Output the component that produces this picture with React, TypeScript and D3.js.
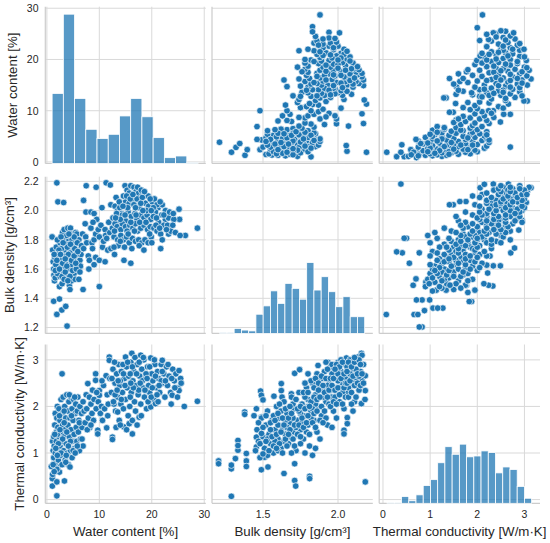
import React from "react";
import * as d3 from "d3";

// ---------------- DATA ----------------
const varLabels = ["Water content [%]", "Bulk density [g/cm³]", "Thermal conductivity [W/m·K]"];
const waterTicks = [0, 10, 20, 30];
const bulkTicksY = [1.2, 1.4, 1.6, 1.8, 2.0, 2.2];
const bulkTicksX = [1.5, 2.0];
const thermalTicks = [0, 1, 2, 3];

// histograms (counts per bin)
const waterHist = [84, 179, 78, 41, 30, 35, 57, 78, 56, 31, 7, 9, 1];
const waterBinStart = 1.0;
const waterBinWidth = 2.14;
const bulkHist = [1, 1, 6, 4, 3, 23, 33, 51, 36, 60, 54, 41, 85, 52, 68, 50, 32, 44, 20, 20];
const bulkBinStart = 1.211;
const bulkBinWidth = 0.04835;
const thermalHist = [1, 1, 8, 3, 10, 21, 28, 48, 67, 58, 70, 55, 56, 62, 60, 36, 43, 40, 20, 6];
const thermalBinStart = 0.087;
const thermalBinWidth = 0.1533;

// [water, bulk]
const waterBulk: [number, number][] = [
  [1.9,2.19],[2.1,2.06],[3.2,2.055],[7.5,2.17],[9.4,2.16],[11.3,2.19],[12.1,2.175],[7.0,2.07],[7.45,1.99],[8.4,1.99],[7.3,1.91],
  [1.0,1.82],[1.3,1.38],[1.9,1.29],[2.4,1.395],[2.85,1.32],[3.6,1.345],[3.85,1.21],[6.9,1.46],[10.0,1.48],
  [28.7,1.88],[26.4,1.83],[25.2,2.01],[25.3,1.94],[21.7,1.74],[14.7,1.66],[16.0,1.64],[4.3,1.49],[1.45,1.52],[2.4,1.48],[4.4,1.46],
  [1.1,1.73],[1.2,1.65],[1.3,1.6],[1.35,1.56],[1.6,1.54],[1.8,1.75],[2.1,1.6],[2.3,1.69],[2.5,1.78],[2.5,1.55],[2.7,1.66],[2.9,1.5],
  [3.0,1.85],[3.1,1.72],[3.3,1.87],[3.4,1.81],[3.5,1.73],[3.6,1.64],[3.7,1.69],[3.9,1.55],[4.0,1.88],[4.1,1.79],[4.2,1.6],[4.3,1.76],
  [4.3,1.67],[4.5,1.88],[4.6,1.84],[4.7,1.52],[4.8,1.8],[4.9,1.72],[5.0,1.77],[5.0,1.63],[5.1,1.67],[5.2,1.57],[5.4,1.53],[5.5,1.85],
  [5.7,1.84],[5.9,1.6],[6.1,1.8],[6.2,1.73],[6.3,1.66],[6.5,1.7],[6.1,1.53],[1.5,1.68],[2.0,1.8],[2.2,1.63],[2.6,1.61],[2.8,1.74],
  [3.2,1.58],[3.4,1.62],[3.8,1.83],[4.4,1.71],[4.6,1.63],[5.3,1.74],[5.6,1.7],[5.8,1.78],[6.4,1.62],[2.0,1.57],[2.9,1.55],[3.6,1.77],
  [4.9,1.59],[1.7,1.63],[3.0,1.64],[4.1,1.7],[5.2,1.82],[6.6,1.76],[2.3,1.73],[3.3,1.53],[4.4,1.55],[5.6,1.6],[6.8,1.84],
  [2.0,1.7],[2.7,1.82],[3.9,1.75],[4.7,1.66],[5.5,1.64],[1.6,1.59],[3.5,1.58],[4.2,1.84],
  [1.4,1.7],[1.9,1.66],[2.4,1.6],[3.1,1.78],[3.8,1.62],[4.5,1.77],[5.2,1.69],[5.9,1.72],[6.3,1.58],[2.6,1.7],[3.5,1.67],[4.0,1.52],
  [7.0,1.74],[7.4,1.82],[7.6,1.78],[7.9,1.69],[8.1,1.66],[8.0,1.6],[8.4,1.88],[8.6,1.78],[8.7,1.74],[9.0,1.8],[9.0,1.63],[9.3,1.84],
  [9.3,1.68],[9.5,1.94],[9.8,1.87],[10.0,1.66],[10.0,1.82],[10.3,1.9],[10.6,1.75],[10.8,1.79],[11.1,1.87],[11.1,1.65],[11.2,1.83],
  [11.4,1.81],[11.6,1.73],[11.8,1.92],[12.0,1.85],[9.0,1.98],[10.5,2.02],[8.8,1.92],[12.2,1.74],[12.9,1.7],
  [12.2,2.04],[13.0,2.03],[13.5,2.0],[13.9,2.02],[14.3,1.98],[14.9,2.17],[15.3,2.14],[15.7,2.12],[16.0,2.17],[16.6,2.16],[17.0,2.13],
  [17.5,2.12],[18.2,2.11],[18.8,2.1],[19.3,2.1],[15.0,2.06],[15.7,2.05],[16.3,2.07],[16.6,2.04],[17.2,2.08],[17.6,2.02],[18.2,2.09],
  [18.8,2.05],[19.4,2.03],[20.1,2.06],[20.5,2.08],[21.2,2.02],[22.0,2.04],[22.6,2.0],[20.7,1.99],
  [12.6,1.95],[13.3,1.98],[13.8,1.92],[14.4,1.97],[15.0,1.93],[15.5,1.99],[16.1,1.96],[16.8,1.98],[17.2,1.94],[17.9,1.97],[18.5,1.95],
  [19.1,1.97],[19.8,1.94],[20.3,1.96],[21.3,1.92],[21.9,1.97],[22.6,1.94],[23.2,1.95],[24.2,1.94],
  [12.5,1.88],[13.0,1.91],[13.4,1.89],[14.1,1.87],[14.4,1.91],[15.0,1.89],[15.3,1.86],[15.8,1.9],[16.4,1.88],[16.9,1.91],[17.3,1.86],
  [17.9,1.88],[18.5,1.9],[19.2,1.87],[19.7,1.89],[20.4,1.88],[21.0,1.86],[21.7,1.84],[22.3,1.9],[23.2,1.84],[23.6,1.86],[24.5,1.85],[25.4,1.83],
  [12.8,1.82],[13.5,1.8],[14.1,1.83],[14.6,1.8],[15.2,1.82],[15.7,1.78],[16.3,1.81],[16.9,1.79],[17.5,1.8],[18.1,1.78],[18.7,1.8],
  [19.3,1.78],[19.9,1.82],[13.6,1.76],[14.8,1.75],[12.8,1.75],[17.6,1.76],[16.2,1.74],[18.5,1.73],[20.0,1.78],
  [13.2,2.09],[14.6,2.1],[16.9,2.02],[19.0,2.0],[21.0,2.04],[23.0,1.9],[24.0,1.9],[22.0,1.8],[15.4,2.02],[17.9,2.05],[14.0,1.94],[20.9,1.95],
  [13.1,1.95],[13.8,2.06],[14.5,2.03],[15.2,2.1],[15.9,2.08],[16.4,2.11],[17.3,2.16],[18.0,2.14],[18.6,2.13],[19.7,2.08],[20.3,2.02],
  [21.6,2.06],[22.3,1.97],[23.4,1.99],[24.1,1.98],[12.9,1.86],[14.0,1.79],[15.5,1.84],[16.7,1.86],[17.7,1.92],[18.9,1.92],[19.6,1.84],
  [20.8,1.9],[21.5,1.88],[16.0,1.92],[14.9,1.97],[18.3,2.0],[17.0,1.97],[19.9,2.0],[22.8,1.87]
];

// [water, thermal]
const waterThermal: [number, number][] = [
  [0.85,0.71],[1.04,0.45],[1.04,0.29],[1.1,0.54],[1.9,0.08],[1.9,0.38],[3.35,0.4],[2.1,0.7],[2.4,0.59],[1.5,0.77],[2.9,2.7],
  [1.1,1.25],[1.2,1.05],[1.3,0.9],[1.3,1.35],[1.4,1.15],[1.5,1.6],[1.6,1.85],[1.6,1.0],[1.8,1.45],[1.8,1.25],[1.9,0.65],[1.9,1.75],
  [2.0,2.0],[2.0,1.1],[2.1,1.55],[2.2,0.85],[2.3,1.35],[2.3,1.95],[2.5,1.15],[2.5,1.7],[2.6,0.95],[2.7,2.15],[2.7,1.45],[2.8,1.25],
  [2.9,0.75],[3.0,1.85],[3.0,1.6],[3.1,2.2],[3.2,1.05],[3.3,1.35],[3.4,2.0],[3.5,1.5],[3.5,0.85],[3.6,1.75],[3.7,1.2],[3.8,2.25],
  [3.9,1.0],[4.0,1.6],[4.0,1.9],[4.1,0.75],[4.2,2.1],[4.3,1.35],[4.4,1.75],[4.5,1.05],[4.6,2.2],[4.6,1.5],[4.8,0.9],[4.8,1.95],
  [4.9,1.25],[5.0,1.7],[5.1,2.15],[5.2,1.4],[5.3,1.1],[5.4,1.85],[5.5,2.05],[5.6,1.55],[5.7,1.25],[5.8,1.9],[5.9,2.2],[6.0,1.45],
  [6.1,1.7],[6.2,1.05],[6.3,2.0],[6.4,1.3],[6.6,1.85],[6.7,1.55],[6.9,1.15],[6.9,2.1],[2.4,1.8],[3.3,1.9],[4.3,2.25],[5.3,2.2],
  [3.8,1.45],[4.5,1.25],[5.0,1.05],[2.0,1.4],[1.5,1.4],[2.7,1.0],[3.7,0.95],[4.1,1.15],[5.8,1.15],[6.2,1.65],[3.0,1.3],[2.2,1.2],
  [4.7,1.8],[3.3,1.65],[1.7,1.1],[2.5,1.5],[1.2,0.75],[1.4,0.6],[3.6,0.8],[4.4,0.7],[5.4,1.0],[6.7,1.3],[2.0,0.95],
  [7.1,1.9],[7.3,1.65],[7.5,2.25],[7.6,1.95],[7.8,2.49],[7.9,1.75],[8.1,2.2],[8.2,1.55],[8.4,2.05],[8.6,1.85],[8.7,2.35],[8.9,1.7],
  [9.0,2.15],[9.3,2.7],[9.3,2.56],[9.4,1.95],[9.7,1.49],[9.7,1.41],[9.8,2.1],[10.0,2.34],[10.0,2.24],[10.2,1.85],[10.4,2.0],[10.6,1.7],
  [10.8,2.45],[11.0,1.95],[11.3,2.66],[11.4,1.54],[11.5,2.25],[11.7,2.05],[11.9,3.06],[11.9,2.99],[12.0,2.6],[11.6,1.8],[7.7,1.5],
  [8.4,1.6],[9.5,2.3],[10.5,2.55],
  [12.3,2.3],[12.5,1.34],[12.5,1.29],[12.6,2.8],[12.8,2.05],[13.0,2.5],[13.1,1.9],[13.3,2.7],[13.5,2.2],[13.5,1.88],[13.7,2.9],[13.8,1.7],
  [13.9,2.45],[14.1,2.05],[14.2,2.75],[14.4,2.3],[14.6,1.95],[14.7,1.56],[14.8,2.6],[15.0,3.06],[15.0,2.15],[15.2,2.85],[15.3,2.4],
  [15.5,1.8],[15.6,2.65],[15.7,1.63],[15.8,2.0],[16.0,2.95],[16.1,2.3],[16.2,3.14],[16.3,1.41],[16.3,1.7],[16.4,2.55],[16.6,2.75],
  [16.7,2.1],[16.9,1.9],[17.0,2.45],[17.2,2.9],[17.4,2.25],[17.6,1.77],[17.7,2.65],[17.9,2.05],[18.1,2.8],[18.3,2.4],[18.5,3.0],
  [18.6,2.2],[18.8,2.6],[19.0,1.95],[19.2,2.85],[19.4,2.45],[19.6,2.3],[19.8,3.04],[19.8,1.99],[20.0,2.7],[20.2,2.55],[20.4,2.15],
  [20.6,2.9],[20.7,2.06],[20.9,2.4],[21.1,2.75],[21.3,2.6],[21.5,2.3],[21.8,2.9],[22.0,2.99],[22.0,2.5],[22.3,2.7],[22.5,2.2],
  [22.8,2.85],[23.0,2.45],[23.3,2.65],[23.6,2.3],[23.9,2.24],[24.0,2.8],[24.3,2.55],[24.6,2.7],[25.0,2.4],[25.2,2.77],[25.2,2.34],
  [25.5,2.6],[26.2,2.0],[28.7,2.11],[13.2,1.55],[14.0,1.6],[15.2,1.5],[17.2,1.6],[18.0,1.8],[12.9,2.95],[14.5,2.9],[16.8,3.05],
  [17.9,3.1],[20.5,3.0],[21.2,2.1],[19.3,2.1],[23.7,2.05],[24.9,2.2],[15.9,2.2],[17.5,2.35],[14.0,2.55],[18.9,2.7],[21.8,2.55],
  [12.4,2.6],[13.0,2.25],[13.6,2.55],[14.2,2.15],[14.9,2.45],[15.4,2.95],[15.9,2.7],[16.5,2.4],[17.1,2.7],[17.6,2.95],[18.2,2.55],
  [18.7,2.35],[19.1,2.6],[19.6,2.85],[20.1,2.4],[20.7,2.65],[21.4,2.45],[22.0,2.75],[22.6,2.55],[23.1,2.9],[23.8,2.6],[24.4,2.4],
  [25.6,2.5],[13.4,2.35],[16.0,2.5],[17.8,2.5],[19.9,2.2],[21.0,2.25],[14.6,2.7],[18.4,3.05],[16.3,2.85],[12.7,2.1]
];

// [bulk, thermal]
const bulkThermal: [number, number][] = [
  [1.204,0.83],[1.204,0.77],[1.289,0.66],[1.289,0.74],[1.289,0.07],[1.316,0.88],[1.333,1.27],[1.333,1.06],[1.333,1.16],[1.389,0.99],
  [1.389,0.83],[1.389,0.71],[1.378,1.88],[1.378,1.83],[1.484,2.33],[1.489,2.24],[1.5,2.14],[1.622,2.49],[1.622,2.34],[1.689,2.27],
  [1.573,2.22],[1.627,2.2],[1.711,2.71],[1.744,2.79],[1.64,0.56],[1.711,0.41],[1.718,0.29],[1.811,0.5],[1.811,0.45],[2.182,0.38],
  [1.711,0.77],[1.489,0.64],[1.456,1.34],[1.456,1.13],[1.511,0.91],[1.533,0.7],[1.456,1.95],[1.44,1.8],[1.49,1.77],
  [2.156,3.14],[2.133,3.06],[2.056,3.04],[1.933,2.95],[1.867,2.88],[1.8,2.7],[2.182,2.66],[2.182,2.34],[2.156,2.06],[2.062,1.76],
  [2.062,1.63],[2.04,1.49],[2.04,1.41],
  [1.45,1.05],[1.46,1.5],[1.47,1.25],[1.48,0.9],[1.49,1.75],[1.5,1.35],[1.51,1.1],[1.52,1.6],[1.53,0.95],[1.53,1.9],[1.54,1.4],
  [1.55,1.2],[1.56,1.7],[1.57,1.0],[1.58,1.5],[1.59,2.0],[1.6,1.3],[1.61,1.75],[1.62,1.1],[1.63,1.55],[1.64,2.1],[1.65,1.4],
  [1.66,1.85],[1.67,1.2],[1.68,1.65],[1.69,2.2],[1.7,1.45],[1.71,1.95],[1.72,1.05],[1.73,1.7],[1.74,2.3],[1.75,1.5],[1.76,2.05],
  [1.77,1.3],[1.78,1.8],[1.79,2.4],[1.8,1.6],[1.8,2.15],[1.81,1.15],[1.82,1.9],[1.83,2.5],[1.84,1.7],[1.85,2.25],[1.86,1.45],
  [1.87,2.0],[1.88,2.6],[1.89,1.8],[1.9,2.35],[1.91,2.75],[1.92,2.1],[1.93,1.6],[1.94,2.5],[1.95,2.85],[1.96,2.2],[1.97,1.9],
  [1.98,2.65],[1.99,2.4],[2.0,2.95],[2.01,2.1],[2.02,2.75],[2.03,2.5],[2.04,1.95],[2.05,2.9],[2.06,2.3],[2.07,2.65],[2.08,3.0],
  [2.09,2.45],[2.1,2.8],[2.11,2.1],[2.12,2.6],[2.13,2.95],[2.14,2.35],[2.15,2.75],[2.16,2.55],[2.17,2.9],[2.18,2.15],
  [1.6,1.6],[1.65,1.7],[1.7,1.75],[1.75,1.85],[1.8,2.0],[1.85,2.05],[1.9,2.2],[1.95,2.35],[2.0,2.55],[2.05,2.6],[1.72,1.55],
  [1.78,2.2],[1.83,1.95],[1.88,2.45],[1.93,2.45],[1.98,2.2],[2.03,2.3],[2.08,2.7],[2.12,2.8],[1.55,1.5],[1.58,1.25],[1.62,1.9],
  [1.68,1.35],[1.74,1.9],[1.86,2.7],[1.9,2.6],[1.96,2.7],[2.0,2.8],[2.06,2.85],[2.1,2.5],[2.14,2.65],[1.66,1.55],[1.7,2.05],
  [1.76,1.65],[1.82,1.75],[1.84,2.4],[1.92,2.95],[2.02,3.0],[2.07,2.4],[1.64,1.25],[1.79,1.45],[1.94,2.05],[1.53,1.3],[1.57,1.8],
  [1.99,1.75],[2.16,3.1],[1.78,1.0],[1.83,0.95],[1.85,1.1],[1.6,1.05],[1.69,1.0],[1.75,1.2],[1.88,1.3],[1.96,1.55],[2.1,1.9],
  [1.48,1.2],[1.5,1.55],[1.5,0.98],[1.52,1.25],[1.52,1.8],[1.54,1.05],[1.55,1.65],[1.56,1.35],[1.49,1.42],[1.47,1.65],
  [1.57,1.15],[1.58,1.7],[1.59,1.4],[1.6,1.85],[1.61,1.2],[1.62,1.45],[1.63,1.75],[1.63,1.0],[1.64,1.6],[1.65,1.95],[1.65,1.3],
  [1.59,1.1],[1.61,2.05],
  [1.66,1.15],[1.67,1.75],[1.68,1.5],[1.69,1.85],[1.7,1.3],[1.71,1.6],[1.72,2.15],[1.73,1.4],[1.73,1.95],[1.74,1.6],[1.75,2.0],
  [1.75,1.35],[1.68,2.0],[1.71,1.15],[1.67,1.4],
  [1.76,1.75],[1.77,2.3],[1.77,1.55],[1.78,1.95],[1.79,1.65],[1.8,2.3],[1.8,1.8],[1.81,1.4],[1.82,2.1],[1.82,2.55],[1.83,1.65],
  [1.84,2.2],[1.84,1.85],[1.85,2.6],[1.85,1.55],[1.78,2.5],[1.81,2.0],
  [1.86,2.15],[1.86,1.9],[1.87,2.5],[1.88,1.7],[1.88,2.2],[1.89,2.65],[1.89,2.0],[1.9,2.45],[1.91,1.9],[1.91,2.3],[1.92,2.6],
  [1.92,1.75],[1.93,2.2],[1.93,2.8],[1.94,2.35],[1.95,2.6],[1.95,2.0],[1.87,2.35],[1.9,1.65],
  [1.96,2.45],[1.96,2.9],[1.97,2.1],[1.97,2.6],[1.98,2.35],[1.99,2.9],[1.99,2.05],[2.0,2.4],[2.0,2.7],[2.01,2.25],[2.01,2.85],
  [2.02,2.6],[2.03,2.05],[2.03,2.95],[2.04,2.4],[2.04,2.7],[2.05,2.2],[2.05,2.5],[1.98,2.8],
  [2.06,2.75],[2.06,2.5],[2.07,2.95],[2.07,2.2],[2.08,2.55],[2.09,2.85],[2.09,2.3],[2.1,2.65],[2.11,2.95],[2.11,2.45],[2.12,2.2],
  [2.13,2.7],[2.13,2.5],[2.14,3.0],[2.15,2.45],[2.15,2.9],[2.16,2.7],[2.17,2.5],[2.11,3.05],[2.09,2.05]
];

// ---------------- LAYOUT (not data) ----------------
const WIDTH = 550;
const HEIGHT = 543;
const COL_X = [45.3, 212, 379.2];
const COL_W = [160.5, 160.8, 160.8];
const ROW_TOP = [6.7, 176.7, 344.5];
const ROW_BOTTOM = [163.5, 333.4, 503.3];
const DOMAINS: [number, number][] = [[-0.3, 30.3], [1.16, 2.232], [-0.08, 3.33]];
const YLABEL_X = [17.2, 13.9, 23.9];
const BLUE = "#1f77b4";
const GRID = "#d9d9d9";
const SPINE = "#cccccc";
const TEXT = "#262626";
const FONT = "'Liberation Sans', Arial, sans-serif";

const xTicksFor = [waterTicks, bulkTicksX, thermalTicks];
const yTicksFor = [waterTicks, bulkTicksY, thermalTicks];
const fmt = [d3.format("d"), d3.format(".1f"), d3.format("d")];

export default function App() {
  const xs = [0, 1, 2].map((i) =>
    d3.scaleLinear().domain(DOMAINS[i]).range([COL_X[i], COL_X[i] + COL_W[i]])
  );
  const ys = [0, 1, 2].map((i) =>
    d3.scaleLinear().domain(DOMAINS[i]).range([ROW_BOTTOM[i], ROW_TOP[i]])
  );
  const maxCount = d3.max([...waterHist, ...bulkHist, ...thermalHist]) as number;
  const cs = [0, 1, 2].map((i) =>
    d3.scaleLinear().domain([0, maxCount * 1.05]).range([ROW_BOTTOM[i], ROW_TOP[i]])
  );

  const hists = [
    { counts: waterHist, start: waterBinStart, width: waterBinWidth },
    { counts: bulkHist, start: bulkBinStart, width: bulkBinWidth },
    { counts: thermalHist, start: thermalBinStart, width: thermalBinWidth },
  ];

  const scatters = [
    { r: 1, c: 0, data: waterBulk, swap: false },
    { r: 2, c: 0, data: waterThermal, swap: false },
    { r: 2, c: 1, data: bulkThermal, swap: false },
    { r: 0, c: 1, data: waterBulk, swap: true },
    { r: 0, c: 2, data: waterThermal, swap: true },
    { r: 1, c: 2, data: bulkThermal, swap: true },
  ];

  const panels: React.ReactNode[] = [];
  for (let r = 0; r < 3; r++) {
    for (let c = 0; c < 3; c++) {
      const x0 = COL_X[c];
      const x1 = COL_X[c] + COL_W[c];
      const yTop = ROW_TOP[r];
      const yBot = ROW_BOTTOM[r];
      panels.push(
        <g key={`grid-${r}-${c}`}>
          {xTicksFor[c].map((t) => (
            <line key={`vx${t}`} x1={xs[c](t)} x2={xs[c](t)} y1={yTop} y2={yBot} stroke={GRID} strokeWidth={1} />
          ))}
          {yTicksFor[r].map((t) => (
            <line key={`hy${t}`} x1={x0} x2={x1} y1={ys[r](t)} y2={ys[r](t)} stroke={GRID} strokeWidth={1} />
          ))}
          <line x1={x0} x2={x0} y1={yTop} y2={yBot} stroke={SPINE} strokeWidth={1.2} />
          <line x1={x0} x2={x1} y1={yBot} y2={yBot} stroke={SPINE} strokeWidth={1.2} />
        </g>
      );
    }
  }

  const diag = hists.map((h, i) => (
    <g key={`hist-${i}`}>
      {h.counts.map((cnt, k) => {
        const a = h.start + k * h.width;
        const b = a + h.width;
        const y = cs[i](cnt);
        return (
          <rect
            key={k}
            x={xs[i](a)}
            y={y}
            width={xs[i](b) - xs[i](a)}
            height={ROW_BOTTOM[i] - y}
            fill={BLUE}
            fillOpacity={0.75}
            stroke="#ffffff"
            strokeWidth={0.8}
          />
        );
      })}
    </g>
  ));

  const dots = scatters.map((s, si) => (
    <g key={`sc-${si}`}>
      {s.data.map((d, k) => {
        const vx = s.swap ? d[1] : d[0];
        const vy = s.swap ? d[0] : d[1];
        return (
          <circle
            key={k}
            cx={xs[s.c](vx)}
            cy={ys[s.r](vy)}
            r={3.3}
            fill={BLUE}
            stroke="#ffffff"
            strokeWidth={0.65}
          />
        );
      })}
    </g>
  ));

  const yTickLabels = [0, 1, 2].map((r) => (
    <g key={`yt-${r}`}>
      {yTicksFor[r].map((t) => (
        <text key={t} x={38.5} y={ys[r](t)} dy="0.36em" textAnchor="end" fontSize={10.5} fill={TEXT} fontFamily={FONT}>
          {fmt[r](t)}
        </text>
      ))}
    </g>
  ));

  const xTickLabels = [0, 1, 2].map((c) => (
    <g key={`xt-${c}`}>
      {xTicksFor[c].map((t) => (
        <text key={t} x={xs[c](t)} y={518.3} textAnchor="middle" fontSize={10.5} fill={TEXT} fontFamily={FONT}>
          {fmt[c](t)}
        </text>
      ))}
    </g>
  ));

  const xLabels = [0, 1, 2].map((c) => (
    <text key={`xl-${c}`} x={COL_X[c] + COL_W[c] / 2} y={535.8} textAnchor="middle" fontSize={13.3} fill={TEXT} fontFamily={FONT}>
      {varLabels[c]}
    </text>
  ));

  const yLabels = [0, 1, 2].map((r) => {
    const cy = (ROW_TOP[r] + ROW_BOTTOM[r]) / 2;
    return (
      <text
        key={`yl-${r}`}
        transform={`translate(${YLABEL_X[r]},${cy}) rotate(-90)`}
        textAnchor="middle"
        fontSize={13.3}
        fill={TEXT}
        fontFamily={FONT}
      >
        {varLabels[r]}
      </text>
    );
  });

  return (
    <svg
      width={WIDTH}
      height={HEIGHT}
      style={{ position: "absolute", left: 0, top: 0, background: "#ffffff" }}
    >
      <rect x={0} y={0} width={WIDTH} height={HEIGHT} fill="#ffffff" />
      {panels}
      {diag}
      {dots}
      {yTickLabels}
      {xTickLabels}
      {xLabels}
      {yLabels}
    </svg>
  );
}
